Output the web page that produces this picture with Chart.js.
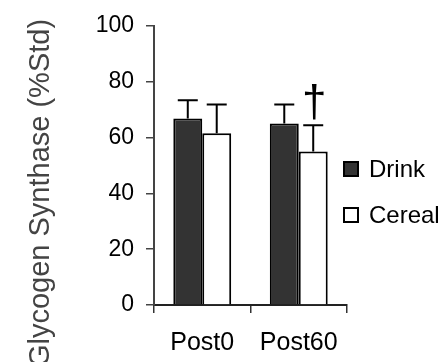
<!DOCTYPE html>
<html>
<head>
<meta charset="utf-8">
<script src="https://cdn.jsdelivr.net/npm/chart.js@4/dist/chart.umd.min.js"></script>
<style>
  html, body { margin: 0; padding: 0; background: #fff; }
  #wrap { width: 443px; height: 362px; position: relative; }
</style>
</head>
<body>
<div id="wrap"><canvas id="gs-chart"></canvas></div>
<script>
const CATEGORIES = ['Post0', 'Post60'];
const DRINK = [66.8, 65.0];
const DRINK_SD = [6.5, 6.8];
const CEREAL = [61.5, 55.0];
const CEREAL_SD = [10.3, 9.4];
const Y_TICKS = [0, 20, 40, 60, 80, 100];
const Y_TITLE = 'Glycogen Synthase (%Std)';
// significance marks, per series / category
const MARKS = [[null, null], [null, '†']];

const FONT = 'Liberation Sans, Arial, Helvetica, sans-serif';

const errorBars = {
    id: 'errorBars',
    afterDatasetsDraw(chart) {
        const ctx = chart.ctx;
        const y = chart.scales.y;
        const sds = [DRINK_SD, CEREAL_SD];
        ctx.save();
        ctx.strokeStyle = '#000';
        ctx.lineWidth = 2;
        chart.data.datasets.forEach((ds, i) => {
            const meta = chart.getDatasetMeta(i);
            meta.data.forEach((bar, j) => {
                const top = y.getPixelForValue(ds.data[j] + sds[i][j]);
                ctx.beginPath();
                ctx.moveTo(bar.x, bar.y);
                ctx.lineTo(bar.x, top);
                ctx.moveTo(bar.x - 10, top);
                ctx.lineTo(bar.x + 10, top);
                ctx.stroke();
                const mark = MARKS[i][j];
                if (mark) {
                    ctx.fillStyle = '#000';
                    ctx.font = '44px ' + FONT;
                    ctx.textAlign = 'center';
                    ctx.textBaseline = 'alphabetic';
                    ctx.fillText(mark, bar.x + 1, top - 9);
                }
            });
        });
        ctx.restore();
    }
};

const sideText = {
    id: 'sideText',
    afterDraw(chart) {
        const ctx = chart.ctx;
        ctx.save();
        // y axis title
        ctx.translate(41, 193);
        ctx.rotate(-Math.PI / 2);
        ctx.fillStyle = '#444';
        ctx.font = '29px ' + FONT;
        ctx.textAlign = 'center';
        ctx.textBaseline = 'middle';
        ctx.fillText(Y_TITLE, 0, 0);
        ctx.restore();

        // legend
        ctx.save();
        ctx.font = '24px ' + FONT;
        ctx.textBaseline = 'alphabetic';
        ctx.textAlign = 'left';
        chart.data.datasets.forEach((ds, i) => {
            const yTop = 162 + i * 46;
            ctx.fillStyle = ds.backgroundColor;
            ctx.fillRect(344, yTop, 14, 14);
            ctx.strokeStyle = '#000';
            ctx.lineWidth = 2;
            ctx.strokeRect(344, yTop, 14, 14);
            ctx.fillStyle = '#000';
            ctx.fillText(ds.label, 369, yTop + 14.5);
        });
        ctx.restore();
    }
};

new Chart(document.getElementById('gs-chart'), {
    type: 'bar',
    data: {
        labels: CATEGORIES,
        datasets: [
            {
                label: 'Drink',
                data: DRINK,
                backgroundColor: '#333333',
                borderColor: '#000',
                borderWidth: 2,
                borderSkipped: 'bottom',
                barPercentage: 1,
                categoryPercentage: 0.6
            },
            {
                label: 'Cereal',
                data: CEREAL,
                backgroundColor: '#ffffff',
                borderColor: '#000',
                borderWidth: 2,
                borderSkipped: 'bottom',
                barPercentage: 1,
                categoryPercentage: 0.6
            }
        ]
    },
    options: {
        responsive: true,
        maintainAspectRatio: false,
        animation: false,
        layout: { padding: { left: 0, top: 22, right: 96, bottom: 0 } },
        plugins: {
            legend: { display: false },
            tooltip: { enabled: false }
        },
        scales: {
            x: {
                grid: { display: true, drawOnChartArea: false, drawTicks: true, tickLength: 8, color: '#333', lineWidth: 1.5 },
                border: { display: true, color: '#222', width: 2 },
                ticks: { color: '#000', font: { family: FONT, size: 25 }, padding: 15 },
                afterFit(scale) { scale.height = 57; }
            },
            y: {
                min: 0,
                max: 100,
                afterBuildTicks(scale) { scale.ticks = Y_TICKS.map(v => ({ value: v })); },
                grid: { display: true, drawOnChartArea: false, drawTicks: true, tickLength: 8, color: '#444', lineWidth: 1.5 },
                border: { display: true, color: '#444', width: 2 },
                ticks: { color: '#000', font: { family: FONT, size: 23 }, padding: 12 },
                afterFit(scale) { scale.width = 154; }
            }
        }
    },
    plugins: [errorBars, sideText]
});
</script>
</body>
</html>
